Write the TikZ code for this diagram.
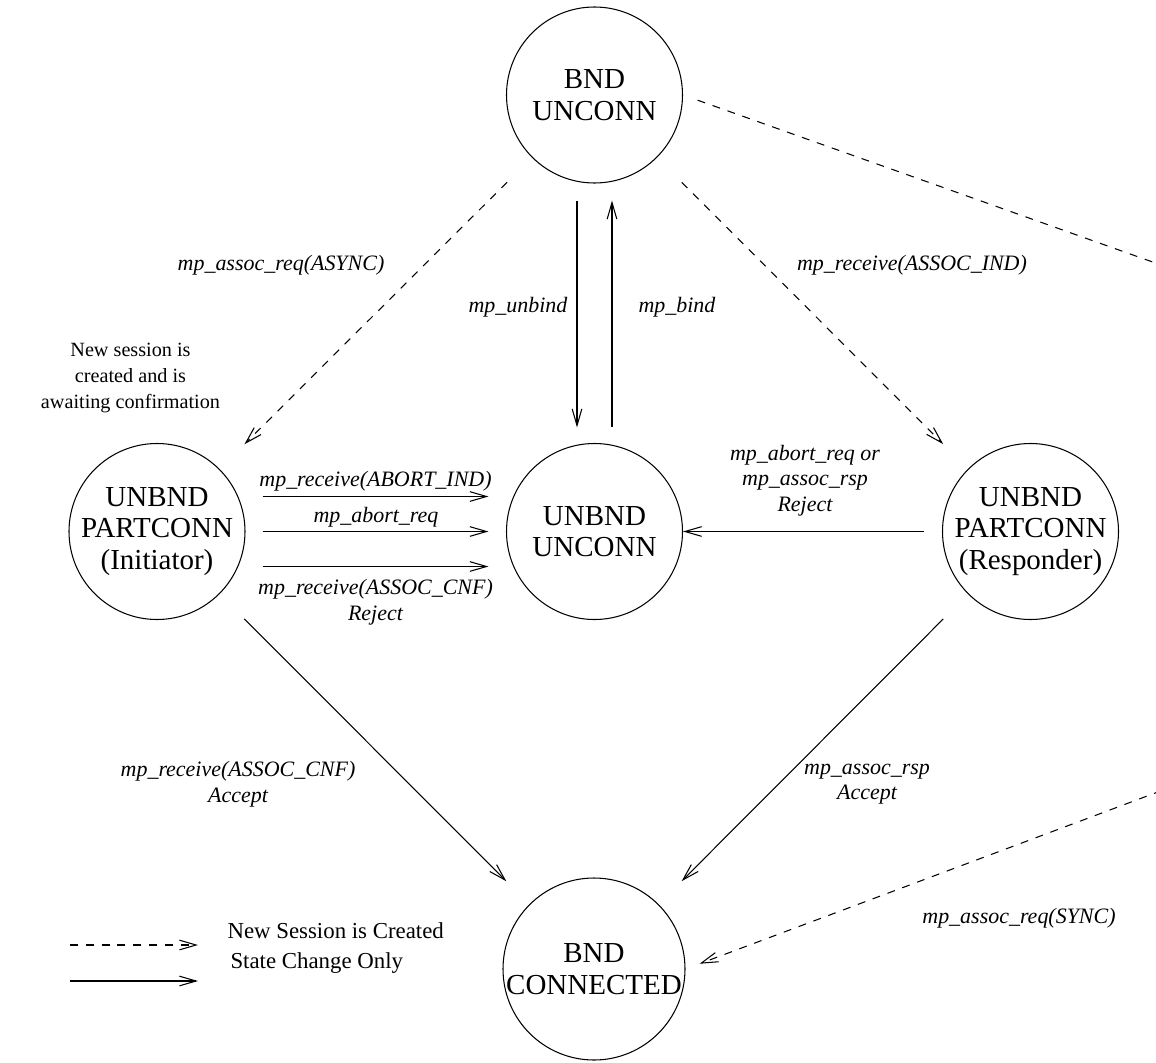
\documentclass[tikz,border=0pt]{standalone}
\usepackage{fontspec}
\setmainfont{Liberation Serif}
\usetikzlibrary{arrows.meta}

\begin{document}
\begin{tikzpicture}[>={Straight Barb[length=9.5pt,width=5.5pt]}, line width=0.6pt, inner sep=0pt,
	state/.style={circle, draw=black, line width=0.6pt, inner sep=-10pt, minimum size=3.52cm, align=center, font=\fontsize{16.5}{18}\selectfont},
	lbl/.style={align=center, font=\fontsize{12.5}{14.5}\selectfont\itshape},
	newsess/.style={dash pattern=on 4.5pt off 4.5pt}]
	
	\useasboundingbox (0,0) rectangle (23.12,-21.24);
	\clip (0,0) rectangle (23.12,-21.24);
	
	% Zustaende
	\node[state](bu) at (11.89,-1.90) {BND\\UNCONN};
	\node[state](uu) at (11.89,-10.63) {UNBND\\UNCONN};
	\node[state](ini) at (3.14,-10.63) {UNBND\\PARTCONN\\(Initiator)};
	\node[state](res) at (20.61,-10.63) {UNBND\\PARTCONN\\(Responder)};
	\node[state, minimum size=3.64cm](bc) at (11.88,-19.38) {BND\\CONNECTED};
	
	% Beschriftungen
	\node[lbl](l_async) at (5.62,-5.30) {mp\_assoc\_req(ASYNC)};
	\node[lbl](l_assocind) at (18.24,-5.30) {mp\_receive(ASSOC\_IND)};
	\node[lbl](l_unbind) at (10.36,-6.14) {mp\_unbind};
	\node[lbl](l_bind) at (13.54,-6.14) {mp\_bind};
	\node[lbl](l_abortind) at (7.51,-9.62) {mp\_receive(ABORT\_IND)};
	\node[lbl](l_abortreq) at (7.52,-10.34) {mp\_abort\_req};
	\node[lbl](l_cnfrej) at (7.51,-12.04) {mp\_receive(ASSOC\_CNF)\\Reject};
	\node[lbl](l_rsprej) at (16.10,-9.61) {mp\_abort\_req or\\mp\_assoc\_rsp\\Reject};
	\node[lbl](l_cnfacc) at (4.76,-15.68) {mp\_receive(ASSOC\_CNF)\\Accept};
	\node[lbl](l_rspacc) at (17.34,-15.68) {mp\_assoc\_rsp\\Accept};
	\node[lbl](l_sync) at (20.38,-18.36) {mp\_assoc\_req(SYNC)};
	
	\node[align=center, font=\fontsize{11.5}{15}\selectfont](note) at (2.61,-7.56) {New session is\\created and is\\awaiting confirmation};
	
	\coordinate (far_right) at (37.62,-10.42);
	
	% gestrichelte Pfeile
	\draw[newsess, ->, shorten <=0.7cm, shorten >=0.7cm](bu) -- (ini);
	\draw[newsess, ->, shorten <=0.7cm, shorten >=0.7cm](bu) -- (res);
	\draw[newsess, ->, shorten <=0.31cm, shorten >=0.3cm](bu.east) -- (far_right) -- (bc.east);
	
	% vertikale Pfeile
	\draw[->, shorten <=0.34cm, shorten >=0.31cm]([xshift=-0.35cm]bu.south) -- ([xshift=-0.35cm]uu.north);
	\draw[<-, shorten <=0.34cm, shorten >=0.31cm]([xshift=0.35cm]bu.south) -- ([xshift=0.35cm]uu.north);
	
	% horizontale Pfeile
	\draw[->, shorten <=0.34cm, shorten >=0.35cm]([yshift=0.7cm]ini.east) -- ([yshift=0.7cm]uu.west);
	\draw[->, shorten <=0.34cm, shorten >=0.35cm](ini.east) -- (uu.west);
	\draw[->, shorten <=0.34cm, shorten >=0.35cm]([yshift=-0.7cm]ini.east) -- ([yshift=-0.7cm]uu.west);
	\draw[->, shorten <=0.35cm](res) -- (uu);
	
	% schraege Pfeile
	\draw[->, shorten <=0.7cm, shorten >=0.65cm](ini) -- (bc);
	\draw[->, shorten <=0.7cm, shorten >=0.65cm](res) -- (bc);
	
	% Legende
	\coordinate (leg_d_start) at (1.40,-18.90);
	\coordinate (leg_d_ende) at (3.96,-18.90);
	\coordinate (leg_s_start) at (1.40,-19.62);
	\coordinate (leg_s_ende) at (3.96,-19.62);
	\draw[newsess, ->](leg_d_start) -- (leg_d_ende);
	\draw[->](leg_s_start) -- (leg_s_ende);
	\node[anchor=base west, font=\fontsize{13}{15}\selectfont](leg_d) at (4.54,-18.76) {New Session is Created};
	\node[anchor=base west, font=\fontsize{13}{15}\selectfont](leg_s) at (4.60,-19.36) {State Change Only};
\end{tikzpicture}
\end{document}
